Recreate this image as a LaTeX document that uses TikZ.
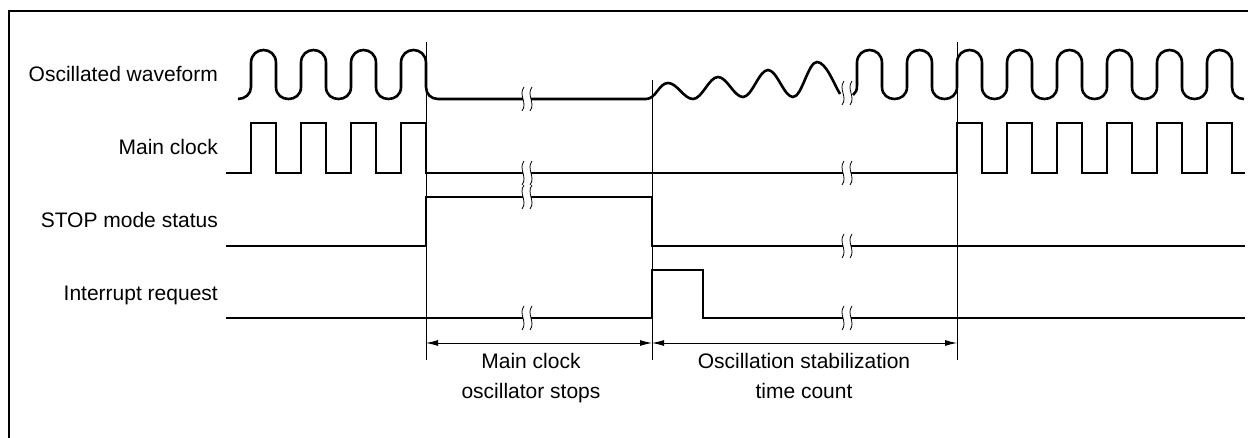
\documentclass[tikz,border=0pt]{standalone}
\usepackage{fontspec}
\setmainfont{Liberation Sans}
\usetikzlibrary{arrows.meta}
\begin{document}
\begin{tikzpicture}[x=1pt,y=-1pt,
  sig/.style={line width=2.6pt},
  guide/.style={line width=0.9pt},
  dimline/.style={line width=0.9pt,{Latex[length=12pt,width=6pt]}-{Latex[length=12pt,width=6pt]}},
  lbl/.style={font=\fontsize{21}{24}\selectfont, inner sep=0pt},
  brk/.pic={
    \fill[white] (-4,-3.5) rectangle (4,3.5);
    \draw[line width=0.8pt] (-3,-12) .. controls (-9,-4) and (1,4) .. (-5,12);
    \draw[line width=0.8pt] (5,-12) .. controls (-1,-4) and (9,4) .. (3,12);
  }]
\useasboundingbox (0,0) rectangle (1248,438);
% frame
\draw[line width=2pt] (9,438) -- (9,11) -- (1248,11);
% guide lines
\coordinate (g1t) at (426,42); \coordinate (g1b) at (426,360);
\coordinate (g2t) at (652,80); \coordinate (g2b) at (652,360);
\coordinate (g3t) at (957,42); \coordinate (g3b) at (957,360);
\draw[guide] (g1t) -- (g1b);
\draw[guide] (g2t) -- (g2b);
\draw[guide] (g3t) -- (g3b);
% dimension arrows
\coordinate (a1) at (426,343);
\coordinate (a2) at (652,343);
\coordinate (a3) at (957,343);
\draw[dimline] (a1) -- (a2);
\draw[dimline] (a2) -- (a3);
% oscillated waveform
\draw[sig] (238,99) .. controls (245,99) and (251,94) .. (251,87)
  \foreach \a in {251,301,351} { -- (\a,63) .. controls (\a,45.7) and ({\a+25},45.7) .. ({\a+25},63)
     -- ({\a+25},87) .. controls ({\a+25},103) and ({\a+50},103) .. ({\a+50},87) }
  -- (401,63) .. controls (401,45.7) and (426,45.7) .. (426,63) -- (426,87)
  .. controls (426,94) and (431,99) .. (438,99) -- (646,99)
  .. controls (656,99) and (659,83) .. (668,83)
  .. controls (677,83) and (684,99) .. (693,99)
  .. controls (702,99) and (709,77) .. (718,77)
  .. controls (727,77) and (734,97) .. (743,97)
  .. controls (752,97) and (759,70) .. (768,70)
  .. controls (777,70) and (784,97) .. (793,97)
  .. controls (802,97) and (808,62) .. (817,62)
  .. controls (826,62) and (834,84) .. (840,94);
\draw[sig] (853,95) .. controls (856,93) and (857,90) .. (857,85)
  \foreach \a in {857,907,...,1157} { -- (\a,63) .. controls (\a,45.7) and ({\a+25},45.7) .. ({\a+25},63)
     -- ({\a+25},87) .. controls ({\a+25},103) and ({\a+50},103) .. ({\a+50},87) }
  -- (1207,63) .. controls (1207,45.7) and (1232,45.7) .. (1232,63) -- (1232,87)
  .. controls (1232,94) and (1237,99) .. (1244,99);
% main clock
\draw[sig] (226,173)
  \foreach \a in {251,301,351,401} { -- (\a,173) -- (\a,123) -- ({\a+25},123) -- ({\a+25},173) }
  -- (957,173)
  \foreach \a in {957,1007,...,1207} { -- (\a,173) -- (\a,123) -- ({\a+25},123) -- ({\a+25},173) }
  -- (1245,173);
% STOP mode status
\draw[sig] (226,246) -- (426,246) -- (426,197) -- (652,197) -- (652,246) -- (1245,246);
% interrupt request
\draw[sig] (226,318) -- (652,318) -- (652,270) -- (703,270) -- (703,318) -- (1245,318);
% breaks
\pic at (527,99) {brk};
\pic at (527,173) {brk};
\pic at (527,197) {brk};
\pic at (527,318) {brk};
\pic at (847,93) {brk};
\pic at (847,173) {brk};
\pic at (847,246) {brk};
\pic at (847,318) {brk};
% labels
\node[lbl, anchor=base east] (l1) at (218,82) {Oscillated waveform};
\node[lbl, anchor=base east] (l2) at (218,155) {Main clock};
\node[lbl, anchor=base east] (l3) at (218,228) {STOP mode status};
\node[lbl, anchor=base east] (l4) at (218,301) {Interrupt request};
\node[lbl, anchor=base] (b1) at (531,369) {Main clock};
\node[lbl, anchor=base] (b2) at (531,398) {oscillator stops};
\node[lbl, anchor=base] (b3) at (804,369) {Oscillation stabilization};
\node[lbl, anchor=base] (b4) at (804,398) {time count};
\end{tikzpicture}
\end{document}
